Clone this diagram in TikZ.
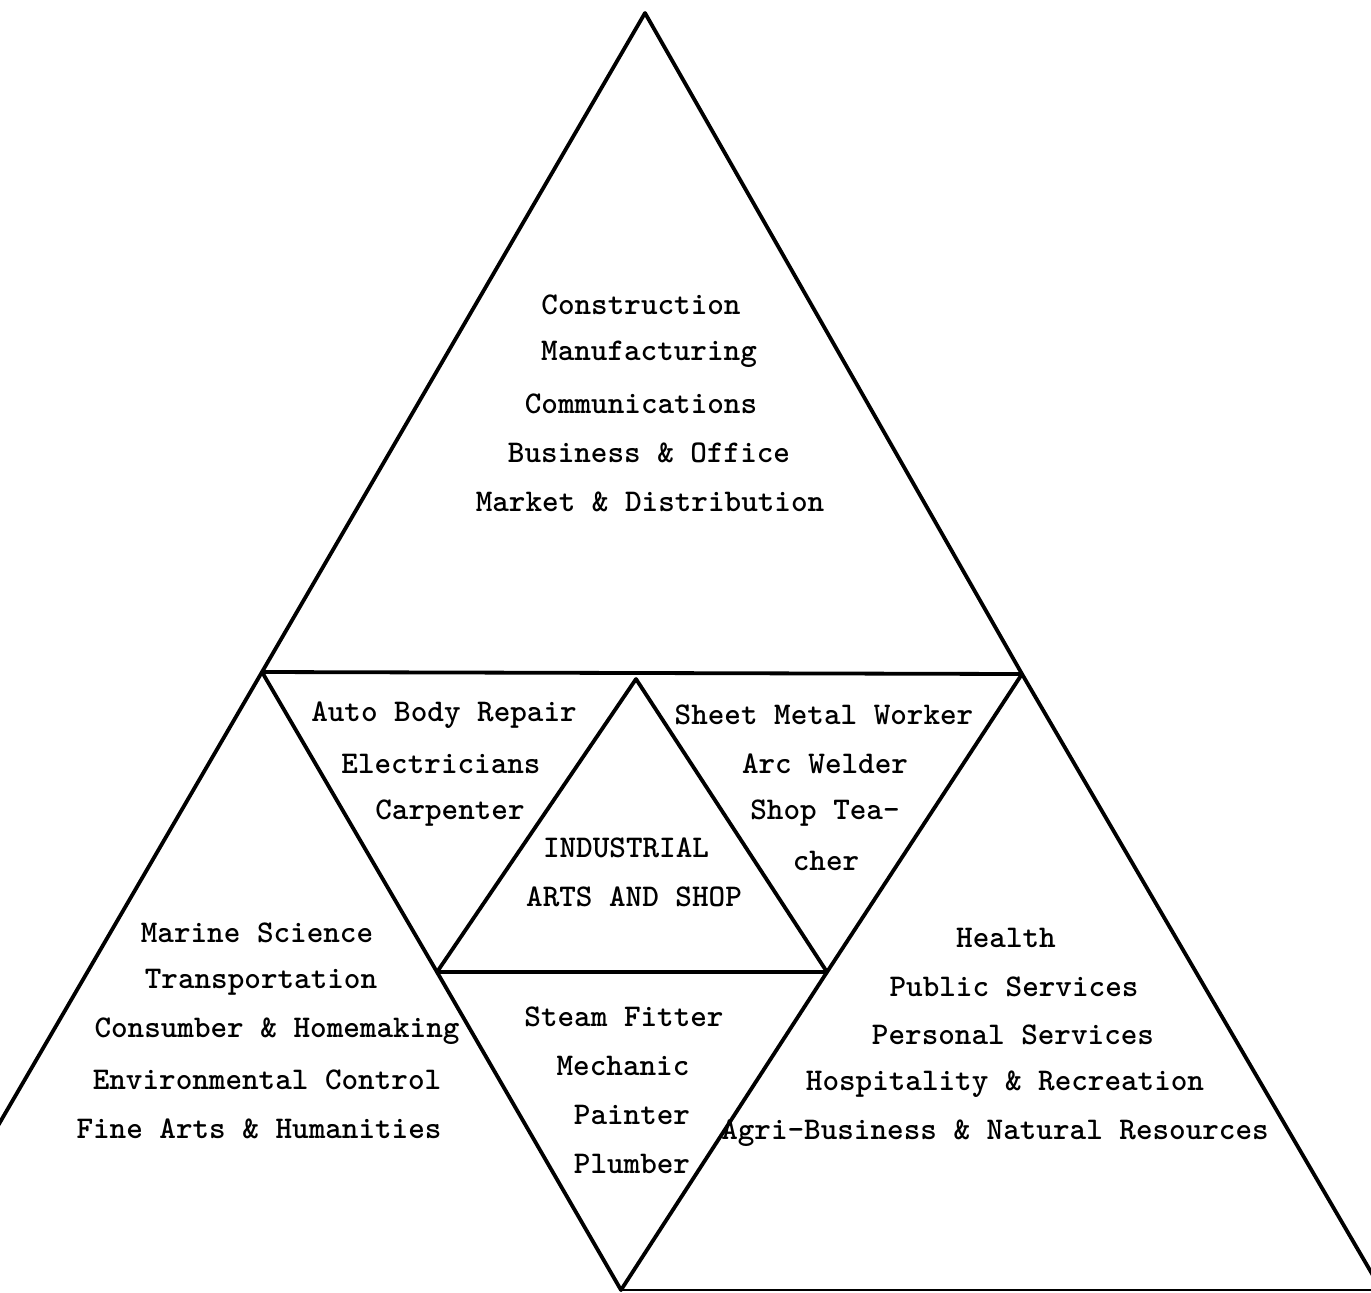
\documentclass[tikz,border=0pt]{standalone}
\usepackage{fontspec}
\begin{document}
\begin{tikzpicture}[x=0.5pt,y=-0.5pt,
  edge/.style={line width=1.9pt,line join=round,line cap=round},
  thinedge/.style={line width=1.2pt},
  lbl/.style={inner sep=0pt,font=\fontsize{15.8}{18}\selectfont\ttfamily\bfseries}]
\useasboundingbox[fill=white] (0,0) rectangle (1371,1292);
% vertices
\coordinate (apex) at (645,13);
\coordinate (L) at (262,672);
\coordinate (R) at (1022,674);
\coordinate (Lout) at (-8,1136);
\coordinate (Rout) at (1385,1296);
\coordinate (ia) at (636,679);
\coordinate (il) at (437,972);
\coordinate (ir) at (827,972);
\coordinate (bv) at (621,1290);
\coordinate (bend) at (1380,1290);
% lines
\draw[edge] (Lout) -- (L) -- (apex) -- (R) -- (Rout);
\draw[edge] (L) -- (R);
\draw[edge] (L) -- (il) -- (bv) -- (ir) -- (R);
\draw[edge] (il) -- (ia) -- (ir) -- cycle;
\draw[thinedge] (bv) -- (bend);
% top
\node[lbl] (t1) at (641,305) {Construction};
\node[lbl] (t2) at (649,354) {Manufacturing};
\node[lbl] (t3) at (641,404) {Communications};
\node[lbl] (t4) at (649,453) {Business \& Office};
\node[lbl] (t5) at (650,502) {Market \& Distribution};
% upper left small
\node[lbl] (a1) at (444,715) {Auto Body Repair};
\node[lbl] (a2) at (441,764) {Electricians};
\node[lbl] (a3) at (450,813) {Carpenter};
% inner
\node[lbl] (i1) at (626,848) {INDUSTRIAL};
\node[lbl] (i2) at (634,897) {ARTS AND SHOP};
% upper right small
\node[lbl] (s1) at (824,715) {Sheet Metal Worker};
\node[lbl] (s2) at (825,764) {Arc Welder};
\node[lbl] (s3) at (825,813) {Shop Tea-};
\node[lbl] (s4) at (826,861) {cher};
% left big
\node[lbl] (m1) at (257,933) {Marine Science};
\node[lbl] (m2) at (261,982) {Transportation};
\node[lbl] (m3) at (277,1031) {Consumber \& Homemaking};
\node[lbl] (m4) at (267,1080) {Environmental Control};
\node[lbl] (m5) at (259,1129) {Fine Arts \& Humanities};
% bottom small
\node[lbl] (b1) at (624,1017) {Steam Fitter};
\node[lbl] (b2) at (623,1066) {Mechanic};
\node[lbl] (b3) at (632,1115) {Painter};
\node[lbl] (b4) at (632,1164) {Plumber};
% right big
\node[lbl] (h1) at (1006,938) {Health};
\node[lbl] (h2) at (1014,987) {Public Services};
\node[lbl] (h3) at (1013,1035) {Personal Services};
\node[lbl] (h4) at (1005,1084) {Hospitality \& Recreation};
\node[lbl] (h5) at (995,1133) {Agri-Business \& Natural Resources};
\end{tikzpicture}
\end{document}
